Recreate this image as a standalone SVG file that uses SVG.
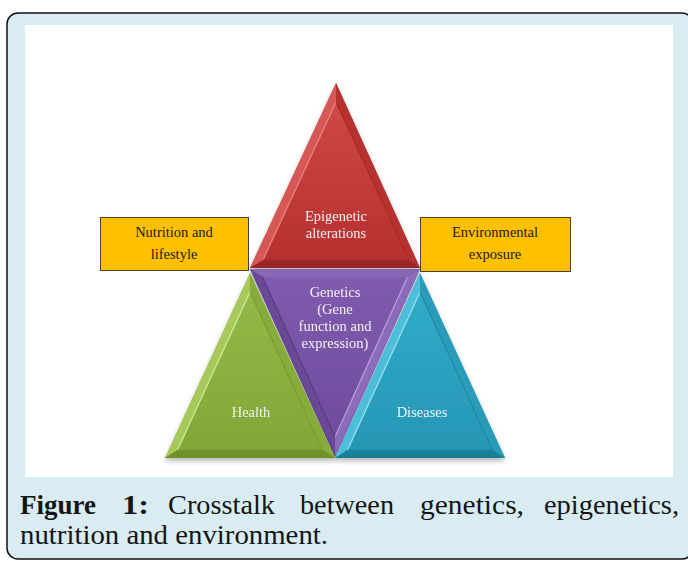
<svg xmlns="http://www.w3.org/2000/svg" width="688" height="561" viewBox="0 0 688 561">
<style>
.lbl{font-family:"Liberation Serif","Times New Roman",serif;font-size:14.5px;text-anchor:middle;fill:#F4F2F4}
.box{fill:#FFC000;stroke:#4A4236;stroke-width:1}
.btxt{font-family:"Liberation Serif","Times New Roman",serif;font-size:14.5px;text-anchor:middle;fill:#1A1A1A}
.cap{font-family:"Liberation Serif","Times New Roman",serif;font-size:28px;fill:#151515}
.hl{fill:none;stroke-width:1.2}
</style>
<defs>
<filter id="sh" x="-20%" y="-20%" width="140%" height="140%">
<feDropShadow dx="0" dy="3" stdDeviation="2.5" flood-color="#000" flood-opacity="0.28"/>
</filter>
<linearGradient id="gRed" x1="0" y1="0" x2="0" y2="1"><stop offset="0" stop-color="#D14B49"/><stop offset="1" stop-color="#B52F2E"/></linearGradient>
<linearGradient id="gGreen" x1="0" y1="0" x2="0" y2="1"><stop offset="0" stop-color="#95BC48"/><stop offset="1" stop-color="#80A637"/></linearGradient>
<linearGradient id="gBlue" x1="0" y1="0" x2="0" y2="1"><stop offset="0" stop-color="#32ADCC"/><stop offset="1" stop-color="#2596B4"/></linearGradient>
<linearGradient id="gPurple" x1="0" y1="0" x2="0" y2="1"><stop offset="0" stop-color="#805CAF"/><stop offset="1" stop-color="#6C4A9B"/></linearGradient>
</defs>

<!-- frame -->
<rect x="7" y="13" width="686" height="546" rx="11" ry="11" fill="#D8ECF2" stroke="#111" stroke-width="1.5"/>
<rect x="25" y="25" width="648" height="452" fill="#FFFFFF"/>

<g id="connectors"></g>

<g id="node-epigenetic" filter="url(#sh)">
<polygon points="336,83 250,268 420,268" fill="url(#gRed)"/>
<polygon points="336,83 250,268 263,260 336,102" fill="#D55956"/>
<polygon points="336,83 420,268 409,260 336,102" fill="#B6302F"/>
<polygon points="250,268 420,268 409,260 263,260" fill="#9C2826"/>
<polyline class="hl" points="263,260 336,102" stroke="#EE8781"/>
<polyline class="hl" points="336,102 409,260 263,260" stroke="#A92C2B"/>
<text class="lbl" x="336" y="221">Epigenetic</text>
<text class="lbl" x="336" y="238">alterations</text>
</g>

<g id="node-genetics" filter="url(#sh)">
<polygon points="250,269 420,269 335,457" fill="url(#gPurple)"/>
<polygon points="250,269 420,269 407.5,277 262.5,277" fill="#8767B6"/>
<polygon points="250,269 335,457 335,437 262.5,277" fill="#6A4898"/>
<polygon points="420,269 335,457 335,437 407.5,277" fill="#8B6CBC"/>
<polyline class="hl" points="407.5,277 335,437" stroke="#B9A0E0"/>
<polyline class="hl" points="262.5,277 335,437" stroke="#5B3C86"/>
<text class="lbl" x="335" y="297">Genetics</text>
<text class="lbl" x="335" y="314">(Gene</text>
<text class="lbl" x="335" y="331">function and</text>
<text class="lbl" x="335" y="348">expression)</text>
</g>

<g id="node-health" filter="url(#sh)">
<polygon points="250,273 165,458 335,458" fill="url(#gGreen)"/>
<polygon points="250,273 165,458 177.5,450 250,292" fill="#A7C95C"/>
<polygon points="250,273 335,458 322.5,450 250,292" fill="#86AC3A"/>
<polygon points="165,458 335,458 322.5,450 177.5,450" fill="#6F922B"/>
<polyline class="hl" points="177.5,450 250,292" stroke="#D4EC96"/>
<polyline class="hl" points="250,292 322.5,450 177.5,450" stroke="#7A9E33"/>
<text class="lbl" x="251" y="417">Health</text>
</g>

<g id="node-diseases" filter="url(#sh)">
<polygon points="420,273 335,458 505,458" fill="url(#gBlue)"/>
<polygon points="420,273 335,458 347.5,450 420,292" fill="#4EBEDA"/>
<polygon points="420,273 505,458 492.5,450 420,292" fill="#2A9CBA"/>
<polygon points="335,458 505,458 492.5,450 347.5,450" fill="#1D7F9A"/>
<polyline class="hl" points="347.5,450 420,292" stroke="#9BE3F2"/>
<polyline class="hl" points="420,292 492.5,450 347.5,450" stroke="#2389A6"/>
<text class="lbl" x="422" y="417">Diseases</text>
</g>

<g id="node-nutrition">
<rect class="box" x="100.5" y="217.5" width="148" height="53"/>
<text class="btxt" x="174" y="237">Nutrition and</text>
<text class="btxt" x="174" y="259">lifestyle</text>
</g>

<g id="node-environment">
<rect class="box" x="420.5" y="217.5" width="150" height="54"/>
<text class="btxt" x="495" y="237">Environmental</text>
<text class="btxt" x="495" y="259">exposure</text>
</g>

<g id="caption">
<text class="cap" x="20" y="514" font-weight="bold" textLength="76" lengthAdjust="spacingAndGlyphs">Figure</text>
<text class="cap" x="122" y="514" font-weight="bold" textLength="27" lengthAdjust="spacingAndGlyphs">1:</text>
<text class="cap" x="168" y="514" textLength="107" lengthAdjust="spacingAndGlyphs">Crosstalk</text>
<text class="cap" x="300" y="514" textLength="94" lengthAdjust="spacingAndGlyphs">between</text>
<text class="cap" x="420" y="514" textLength="104" lengthAdjust="spacingAndGlyphs">genetics,</text>
<text class="cap" x="544" y="514" textLength="135" lengthAdjust="spacingAndGlyphs">epigenetics,</text>
<text class="cap" x="20" y="544" textLength="308" lengthAdjust="spacingAndGlyphs">nutrition and environment.</text>
</g>
</svg>
